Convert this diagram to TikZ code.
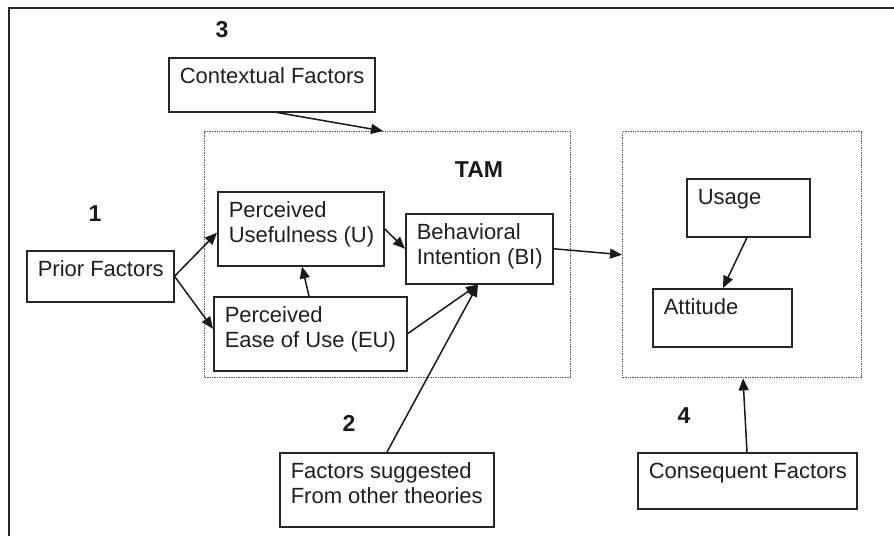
\documentclass[tikz,border=0pt]{standalone}
\usepackage{fontspec}
\setmainfont{Liberation Sans}
\usetikzlibrary{arrows.meta}

% box contents: text set from the top-left corner of a fixed-size box
\newcommand\bxtext[3]{%
  \begin{minipage}[t][#2][t]{#1}\raggedright\leftskip=11pt
  \rule{0pt}{25.5pt}#3\end{minipage}}

\tikzset{
  x=1pt, y=-1pt,
  txt/.style={font=\fontsize{22}{25}\selectfont, text=black!88},
  factor/.style={txt, draw=black!85, line width=1.5pt, inner sep=0pt,
    anchor=north west},
  group/.style={draw=black!65, line width=1.4pt, densely dotted,
    anchor=north west, inner sep=0pt},
  num/.style={font=\fontsize{23}{25}\selectfont\bfseries, text=black!90,
    inner sep=0pt},
  link/.style={draw=black!90, line width=1.5pt,
    -{Triangle[length=12pt,width=10pt]}},
  frame/.style={draw=black!85, line width=2.2pt}
}

\begin{document}
\begin{tikzpicture}
\useasboundingbox (0,0) rectangle (894,536);

% outer frame (top and left rules)
\draw[frame] (9,536) -- (9,8) -- (894,8);

% dotted groups
\node[group, minimum width=366pt, minimum height=246pt] (tam) at (204,131) {};
\node[group, minimum width=239pt, minimum height=246pt] (outc) at (622,131) {};

% numbers and title
\node[num] (n3) at (222,30) {3};
\node[num] (n1) at (95,214) {1};
\node[num] (n2) at (349,423) {2};
\node[num] (n4) at (684,416) {4};
\node[num] (tamlbl) at (479,170) {TAM};

% factor boxes
\node[factor] (ctx) at (168,57) {\bxtext{206pt}{54pt}{Contextual Factors}};
\node[factor] (pu) at (217,191) {\bxtext{166pt}{74pt}{Perceived\\Usefulness (U)}};
\node[factor] (bi) at (405,213) {\bxtext{147pt}{70pt}{Behavioral\\Intention (BI)}};
\node[factor] (peu) at (213,296) {\bxtext{193pt}{74pt}{Perceived\\Ease of Use (EU)}};
\node[factor] (prior) at (26,250) {\bxtext{147pt}{51pt}{Prior Factors}};
\node[factor] (fac) at (279,452) {\bxtext{214pt}{74pt}{Factors suggested\\From other theories}};
\node[factor] (usage) at (686,178) {\bxtext{123pt}{58pt}{Usage}};
\node[factor] (att) at (652,288) {\bxtext{139pt}{58pt}{Attitude}};
\node[factor] (cons) at (637,452) {\bxtext{219pt}{56pt}{Consequent Factors}};

% connectors
\draw[link] ([xshift=109pt]ctx.south west) -- ([xshift=179pt]tam.north west);
\draw[link] (prior.east) -- ([yshift=-4pt]pu.west);
\draw[link] (prior.east) -- ([yshift=5pt]peu.west);
\draw[link] ([xshift=96pt]peu.north west) -- ([xshift=85pt]pu.south west);
\draw[link] (pu.east) -- (bi.west);
\draw[link] (bi.east) -- (outc.west);
\draw[link] (peu.east) -- ([xshift=73pt]bi.south west);
\draw[link] ([xshift=108pt]fac.north west) -- ([xshift=73pt]bi.south west);
\draw[link] ([xshift=61pt]usage.south west) -- ([xshift=71pt]att.north west);
\draw[link] ([xshift=110pt]cons.north west) -- ([xshift=121pt]outc.south west);
\end{tikzpicture}
\end{document}
